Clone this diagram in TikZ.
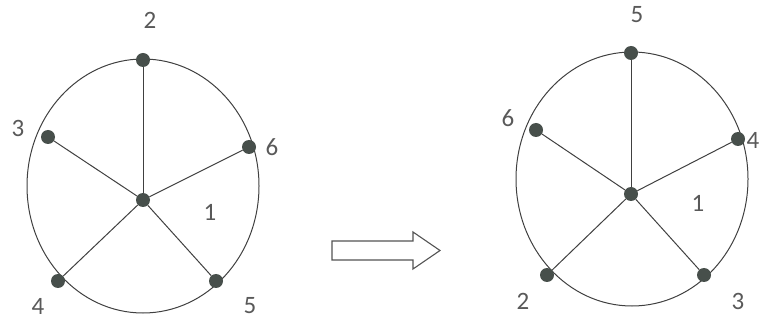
\documentclass[tikz,border=0pt]{standalone}
\usepackage{fontspec}
\setmainfont{Carlito}
\usepackage{xcolor}
\definecolor{Ink}{HTML}{404040}
\definecolor{Dot}{HTML}{474F4B}
\definecolor{Num}{HTML}{595959}
\usetikzlibrary{positioning}

\begin{document}
\begin{tikzpicture}[x=1pt,y=-1pt,
 vert/.style={circle,fill=Dot,inner sep=0pt,minimum size=14pt},
 num/.style={text=Num,font=\fontsize{25}{27}\selectfont,inner sep=0pt},
 rim/.style={draw=Ink,line width=1pt}]
\useasboundingbox (0,0) rectangle (760,320);
% left graph
\draw[rim] (143,186) ellipse [x radius=116,y radius=127];
\node[vert] (L1) at (143,200) {};
\foreach \n/\x/\y in {2/143/60,3/48/137,6/249/147,4/58/281,5/216/281} {\node[vert] (L\n) at (\x,\y) {}; \draw[rim] (L1)--(L\n);}
\foreach \n/\x/\y in {1/210/212,2/150/20,3/18/128,6/272/147,4/38/306,5/250/306} {\node[num] (Lt\n) at (\x,\y) {\n};}
% arrow
\coordinate (a) at (332,241);
\draw[draw=Ink!90,line width=1.1pt] (a)--(413,241)--(413,232)--(440,250.5)--(413,269)--(413,260)--(332,260)--cycle;
% right graph
\draw[rim] (632,179) ellipse [x radius=116,y radius=127];
\node[vert] (R1) at (631,194) {};
\foreach \n/\x/\y in {5/631/53,6/536/130,4/738/139,2/547/275,3/704/275} {\node[vert] (R\n) at (\x,\y) {}; \draw[rim] (R1)--(R\n);}
\foreach \n/\x/\y in {1/698/203,5/637/15,6/508/118,4/753/140,2/523/301,3/738/301} {\node[num] (Rt\n) at (\x,\y) {\n};}
\end{tikzpicture}
\end{document}
